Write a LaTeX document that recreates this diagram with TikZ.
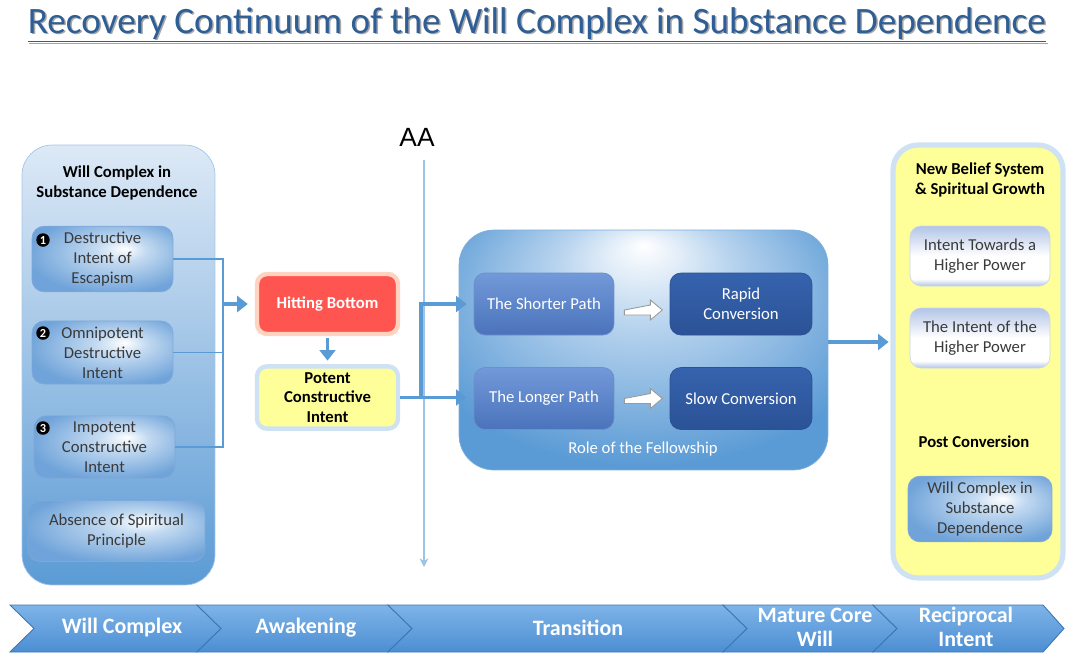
\documentclass[tikz,border=0pt]{standalone}
\usepackage{fontspec}
\setmainfont{Carlito}
\newfontfamily\aafont{Liberation Sans}
\usetikzlibrary{arrows.meta}
\definecolor{lineblue}{HTML}{5B9BD5}
\definecolor{aablue}{HTML}{9DC3E6}
\definecolor{titleblue}{HTML}{2E5E96}
\definecolor{paneltop}{HTML}{DDE9F6}
\definecolor{paneledge}{HTML}{A3C6E8}
\definecolor{glossmid}{HTML}{C3DAF1}
\definecolor{glossedge}{HTML}{6FA3D9}
\definecolor{boxedge}{HTML}{7FA9DA}
\definecolor{textgray}{HTML}{3A3A3A}
\definecolor{hitred}{HTML}{FF5550}
\definecolor{hitglow}{HTML}{FFD3C0}
\definecolor{pyellow}{HTML}{FFFF99}
\definecolor{yglow}{HTML}{CFE2F4}
\definecolor{fellowmid}{HTML}{B7D3EE}
\definecolor{pathtop}{HTML}{7299D8}
\definecolor{pathbot}{HTML}{4A73BC}
\definecolor{convtop}{HTML}{3663AE}
\definecolor{convbot}{HTML}{2B5296}
\definecolor{palebl}{HTML}{B2C4E6}
\definecolor{chevtop}{HTML}{7EB4E8}
\definecolor{chevbot}{HTML}{4C8ED3}
\definecolor{chevedge}{HTML}{3C76B3}
\pgfdeclareradialshading{gloss}{\pgfpoint{8bp}{8bp}}{color(0bp)=(white); color(9bp)=(glossmid); color(30bp)=(glossedge); color(50bp)=(glossedge)}
\pgfdeclareradialshading{fellowglow}{\pgfpoint{0bp}{22bp}}{color(0bp)=(white); color(12bp)=(fellowmid); color(32bp)=(lineblue); color(50bp)=(lineblue)}
\pgfdeclareverticalshading{pale}{100bp}{color(0bp)=(palebl); color(25bp)=(palebl); color(31bp)=(white); color(50bp)=(white); color(75bp)=(palebl); color(100bp)=(palebl)}

\begin{document}
\begin{tikzpicture}[x=0.02cm,y=-0.02cm,
	flow/.style={draw=lineblue,line width=2.2pt,-{Triangle[length=6pt,width=9pt]}},
	link/.style={draw=lineblue,line width=1.1pt},
	small/.style={font=\fontsize{9.5}{11.3}\selectfont,align=center},
	head/.style={font=\fontsize{9.5}{11.3}\selectfont\bfseries,align=center,text=black},
	panel/.style={rounded corners=0.6cm,draw=paneledge,top color=paneltop,bottom color=lineblue},
	willbox/.style={small,rounded corners=0.24cm,draw=boxedge,shading=gloss,text=textgray,minimum width=2.82cm,minimum height=1.22cm},
	bullet/.style={circle,fill=black,text=white,inner sep=0pt,minimum size=0.27cm,font=\fontsize{7}{7}\selectfont\bfseries},
	pathbox/.style={small,rounded corners=0.22cm,draw=pathbot!80,top color=pathtop,bottom color=pathbot,text=white,minimum width=2.8cm,minimum height=1.24cm},
	convbox/.style={small,rounded corners=0.22cm,draw=convbot,top color=convtop,bottom color=convbot,text=white,minimum width=2.84cm,minimum height=1.24cm},
	hpbox/.style={small,rounded corners=0.22cm,draw=palebl!70,shading=pale,text=textgray,minimum width=2.8cm,minimum height=1.2cm},
	blockarrow/.style={draw=black!40,fill=white,line width=0.5pt},
	chev/.style={draw=chevedge,line width=0.5pt,top color=chevtop,bottom color=chevbot},
	chevtext/.style={font=\fontsize{12.5}{13.6}\selectfont\bfseries,text=white,align=center}]
	\useasboundingbox (0,0) rectangle (1066,654);
	% title
	\node[font=\fontsize{21.2}{25}\selectfont,text=black!35] at (538.5,26.5) {\underline{Recovery Continuum of the Will Complex in Substance Dependence}};
	\node[font=\fontsize{21.2}{25}\selectfont,text=titleblue] (title) at (537,25) {\underline{Recovery Continuum of the Will Complex in Substance Dependence}};
	% AA line
	\node[font=\aafont\fontsize{15}{18}\selectfont] (aa) at (417,137) {AA};
	\coordinate (aatop) at (424,160);
	\coordinate (aabot) at (424,567);
	\draw[aablue,line width=1pt,-{Stealth[length=5pt,width=5pt]}] (aatop) -- (aabot);
	% left panel
	\node[panel,minimum width=3.86cm,minimum height=8.8cm] (wc) at (118.5,365) {};
	\node[head] (wchead) at (117,183) {Will Complex in\\Substance Dependence};
	\node[willbox] (d1) at (102.5,259) {Destructive\\Intent of\\Escapism};
	\node[willbox] (d2) at (102.5,352.5) {Omnipotent\\Destructive\\Intent};
	\node[willbox] (d3) at (104.5,447) {Impotent\\Constructive\\Intent};
	\node[willbox,minimum width=3.54cm] (d4) at (116.5,531) {Absence of Spiritual\\Principle};
	\node[bullet] (b1) at (43,240) {1};
	\node[bullet] (b2) at (43,333) {2};
	\node[bullet] (b3) at (43,428) {3};
	\coordinate (brk) at (223,304);
	\draw[link] (d1.east) -| (brk);
	\draw[link] (d2.east) -- (d2.east -| brk);
	\draw[link] (d3.east) -| (brk);
	% awakening
	\node[small,font=\fontsize{9.5}{11.3}\selectfont\bfseries,rounded corners=0.2cm,draw=hitglow,line width=2.5pt,fill=hitred,text=white,minimum width=2.82cm,minimum height=1.2cm] (hb) at (327.5,304) {Hitting Bottom};
	\node[head,rounded corners=0.2cm,draw=yglow,line width=2.5pt,fill=pyellow,minimum width=2.82cm,minimum height=1.22cm] (pci) at (327.5,397.5) {Potent\\Constructive\\Intent};
	\draw[flow,shorten >=4pt] (brk) -- (hb.west);
	\draw[flow,shorten <=1pt,shorten >=2pt] (hb) -- (pci);
	% fellowship
	\node[rounded corners=0.7cm,draw=lineblue!80,shading=fellowglow,minimum width=7.38cm,minimum height=4.8cm] (fel) at (643.5,350) {};
	\node[small,text=white] (role) at (643,449) {Role of the Fellowship};
	\node[pathbox] (sp) at (544,304) {The Shorter Path};
	\node[convbox] (rc) at (741,304) {Rapid\\Conversion};
	\node[pathbox] (lp) at (544,398.5) {The Longer Path};
	\node[convbox] (sc) at (741,398.5) {Slow Conversion};
	\draw[blockarrow] ([xshift=0.2cm,yshift=-0.12cm]sp.east) -- ++(26,-5) -- ++(0,-5) -- ++(12,10) -- ++(-12,10) -- ++(0,-5) -- ++(-26,0) -- cycle;
	\draw[blockarrow] ([xshift=0.2cm]lp.east) -- ++(26,-5) -- ++(0,-5) -- ++(12,10) -- ++(-12,10) -- ++(0,-5) -- ++(-26,0) -- cycle;
	\coordinate (fork) at (421,397.5);
	\draw[flow,shorten >=4pt] (pci.east) -- (pci.east -| lp.west);
	\draw[flow,shorten >=4pt] (fork) |- (sp.west);
	% new belief system
	\node[rounded corners=0.5cm,draw=yglow,line width=3pt,fill=pyellow,minimum width=3.4cm,minimum height=8.66cm] (nb) at (978,361.5) {};
	\node[head] (nbhead) at (980,180) {New Belief System\\\& Spiritual Growth};
	\node[hpbox] (ih1) at (980,256) {Intent Towards a\\Higher Power};
	\node[hpbox] (ih2) at (980,338) {The Intent of the\\Higher Power};
	\node[head] (post) at (974,442) {Post Conversion};
	\node[willbox,minimum width=2.88cm,minimum height=1.24cm] (wc2) at (980,509) {Will Complex in\\Substance\\Dependence};
	\draw[flow,shorten >=1pt] ([yshift=0.16cm]fel.east) -- ([yshift=0.16cm]fel.east -| nb.west);
	% phases
	\draw[chev] (10,605) -- (197,605) -- (221,628.5) -- (197,652) -- (10,652) -- (34,628.5) -- cycle;
	\draw[chev] (197,605) -- (388,605) -- (412,628.5) -- (388,652) -- (197,652) -- (221,628.5) -- cycle;
	\draw[chev] (388,605) -- (723,605) -- (747,628.5) -- (723,652) -- (388,652) -- (412,628.5) -- cycle;
	\draw[chev] (723,605) -- (873,605) -- (897,628.5) -- (873,652) -- (723,652) -- (747,628.5) -- cycle;
	\draw[chev] (873,605) -- (1043,605) -- (1064,628.5) -- (1043,652) -- (873,652) -- (897,628.5) -- cycle;
	\node[chevtext] (ph1) at (122,628) {Will Complex};
	\node[chevtext] (ph2) at (306,628) {Awakening};
	\node[chevtext] (ph3) at (578,628) {Transition};
	\node[chevtext] (ph4) at (815,627) {Mature Core\\Will};
	\node[chevtext] (ph5) at (966,627) {Reciprocal\\Intent};
\end{tikzpicture}
\end{document}
